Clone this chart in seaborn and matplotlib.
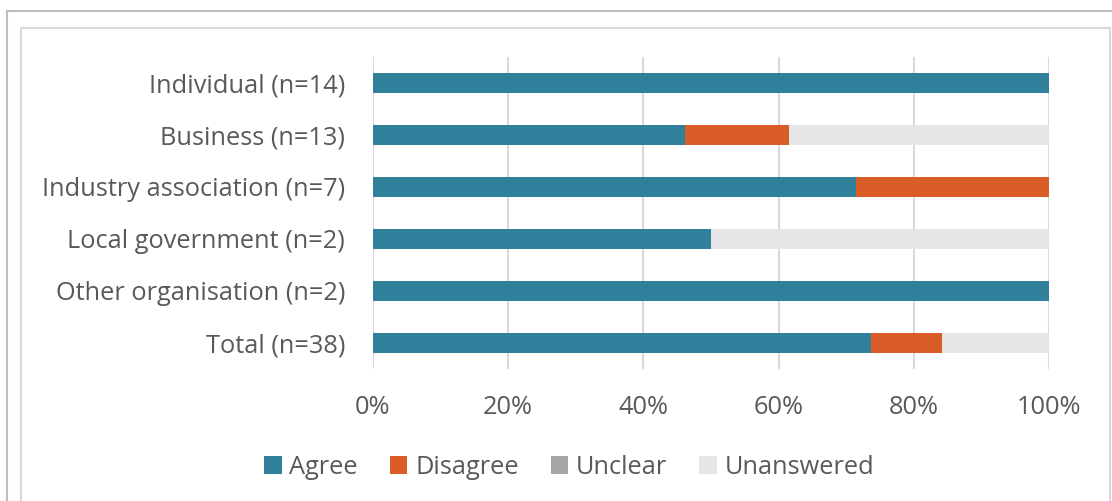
import matplotlib
matplotlib.use("Agg")
import matplotlib.pyplot as plt
import seaborn as sns
import pandas as pd
import numpy as np
from matplotlib.lines import Line2D
from matplotlib.patches import Patch

categories = ["Individual (n=14)", "Business (n=13)", "Industry association (n=7)",
              "Local government (n=2)", "Other organisation (n=2)", "Total (n=38)"]
agree = [100.0, 46.15, 71.43, 50.0, 100.0, 73.68]
disagree = [0.0, 15.38, 28.57, 0.0, 0.0, 10.53]
unclear = [0.0, 0.0, 0.0, 0.0, 0.0, 0.0]
unanswered = [0.0, 38.47, 0.0, 50.0, 0.0, 15.79]
series_names = ["Agree", "Disagree", "Unclear", "Unanswered"]
colors = ["#31809B", "#DA5C27", "#A5A5A5", "#E6E6E6"]
xticks = [0, 20, 40, 60, 80, 100]
xticklabels = ["0%", "20%", "40%", "60%", "80%", "100%"]

sns.set_theme(style="white")
plt.rcParams["font.family"] = ["Open Sans", "DejaVu Sans"]
TXT = "#595959"
FS = 18.3

W, H = 1112, 501
fig = plt.figure(figsize=(W / 100, H / 100), dpi=100)
ax = fig.add_axes([373 / W, 1 - 369 / H, (1049 - 373) / W, (369 - 57) / H])

series = [agree, disagree, unclear, unanswered]
cum = np.cumsum(np.array(series), axis=0)
df = pd.DataFrame({"cat": categories})
for i in range(len(series) - 1, -1, -1):
    df["v"] = cum[i]
    sns.barplot(data=df, x="v", y="cat", orient="h", color=colors[i],
                width=0.4, ax=ax, saturation=1, linewidth=0, zorder=3)

ax.set_xlim(0, 100)
ax.set_ylim(len(categories) - 0.5, -0.5)
ax.set_xticks(xticks)
ax.set_xticklabels(xticklabels)
ax.set_xlabel("")
ax.set_ylabel("")
ax.grid(axis="x", color="#D9D9D9", linewidth=1.5, zorder=0)
ax.grid(axis="y", visible=False)
for s in ax.spines.values():
    s.set_visible(False)
ax.tick_params(axis="x", length=0, pad=19, labelsize=FS, labelcolor=TXT)
ax.tick_params(axis="y", length=0, pad=20, labelsize=FS, labelcolor=TXT)

handles = [Patch(facecolor=c, edgecolor="none") for c in colors]
fig.legend(handles, series_names, loc="center", bbox_to_anchor=(569 / W, 1 - 467 / H),
           ncol=4, frameon=False, fontsize=FS, labelcolor=TXT,
           handlelength=0.7, handleheight=0.7, handletextpad=0.3, columnspacing=1.25)

def fline(xs, ys, color):
    fig.add_artist(Line2D([x / W for x in xs], [1 - y / H for y in ys],
                          color=color, linewidth=1.5, transform=fig.transFigure))

fline([7, 7], [11, 501], "#BFBFBF")
fline([7, 1112], [11, 11], "#BFBFBF")
fline([21, 21], [28, 501], "#D9D9D9")
fline([21, 1110], [28, 28], "#D9D9D9")
fline([1110, 1110], [28, 501], "#D9D9D9")

fig.savefig("out.png", dpi=100, facecolor="white")
